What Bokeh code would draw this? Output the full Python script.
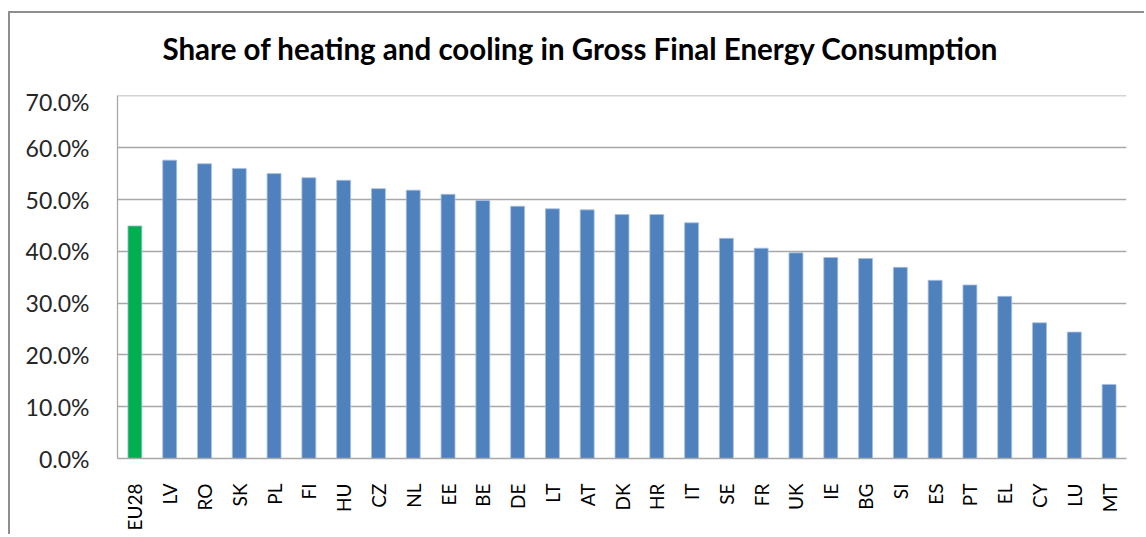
from bokeh.plotting import figure
from bokeh.models import FactorRange, Range1d, NumeralTickFormatter, FixedTicker, ColumnDataSource, Div
from bokeh.layouts import column
from bokeh.embed import file_html
from bokeh.resources import INLINE
import math

title_text = "Share of heating and cooling in Gross Final Energy Consumption"
countries = ["EU28", "LV", "RO", "SK", "PL", "FI", "HU", "CZ", "NL", "EE", "BE", "DE", "LT", "AT",
             "DK", "HR", "IT", "SE", "FR", "UK", "IE", "BG", "SI", "ES", "PT", "EL", "CY", "LU", "MT"]
share = [0.449, 0.576, 0.569, 0.560, 0.550, 0.542, 0.537, 0.521, 0.518, 0.510, 0.498, 0.487, 0.482, 0.480,
         0.471, 0.471, 0.455, 0.425, 0.406, 0.397, 0.388, 0.386, 0.369, 0.344, 0.335, 0.313, 0.262, 0.244, 0.143]
y_ticks = [0.0, 0.1, 0.2, 0.3, 0.4, 0.5, 0.6, 0.7]

colors = ["#00B050" if c == "EU28" else "#4F81BD" for c in countries]
src = ColumnDataSource(dict(x=countries, top=share, color=colors))

FONT = "Lato"

title_div = Div(text=title_text, width=1134, height=74, margin=0,
                styles={"font-family": "Lato", "font-size": "29.5px", "font-weight": "bold",
                        "color": "#000000", "text-align": "center", "line-height": "72px",
                        "padding-left": "6px", "white-space": "nowrap"})

p = figure(x_range=FactorRange(*countries, range_padding=0), y_range=Range1d(0, 0.7008),
           width=1134, height=447, output_backend="svg", toolbar_location=None,
           title_location=None,
           min_border_left=107, min_border_right=18, min_border_top=8, min_border_bottom=76)

p.vbar(x="x", top="top", width=0.40, source=src, fill_color="color", line_color="#a7bfe0", line_width=0.8)

p.outline_line_color = None
p.background_fill_color = "white"
p.border_fill_color = "white"

p.xgrid.grid_line_color = None
p.ygrid.grid_line_color = "#a8a8a8"
p.ygrid.grid_line_width = 1.3

p.yaxis.ticker = FixedTicker(ticks=y_ticks)
p.yaxis.formatter = NumeralTickFormatter(format="0.0%")
p.yaxis.major_tick_line_color = None
p.yaxis.minor_tick_line_color = None
p.yaxis.major_label_standoff = 22
p.yaxis.axis_line_color = "#a8a8a8"
p.yaxis.axis_line_width = 1.3
p.yaxis.major_label_text_font = FONT
p.yaxis.major_label_text_font_size = "23px"
p.yaxis.major_label_text_color = "#262626"

p.xaxis.major_tick_line_color = None
p.xaxis.minor_tick_line_color = None
p.xaxis.major_label_orientation = math.pi / 2
p.xaxis.major_label_standoff = 19
p.xaxis.axis_line_color = "#a8a8a8"
p.xaxis.axis_line_width = 1.3
p.xaxis.major_label_text_font = FONT
p.xaxis.major_label_text_font_size = "19px"
p.xaxis.major_label_text_color = "#000000"

layout = column(title_div, p, spacing=0,
                styles={"border-left": "2px solid #8e8e8e", "border-top": "2px solid #8e8e8e",
                        "margin-top": "11px", "margin-left": "8px", "background-color": "white"})

open("out.html", "w").write(file_html(layout, INLINE))
